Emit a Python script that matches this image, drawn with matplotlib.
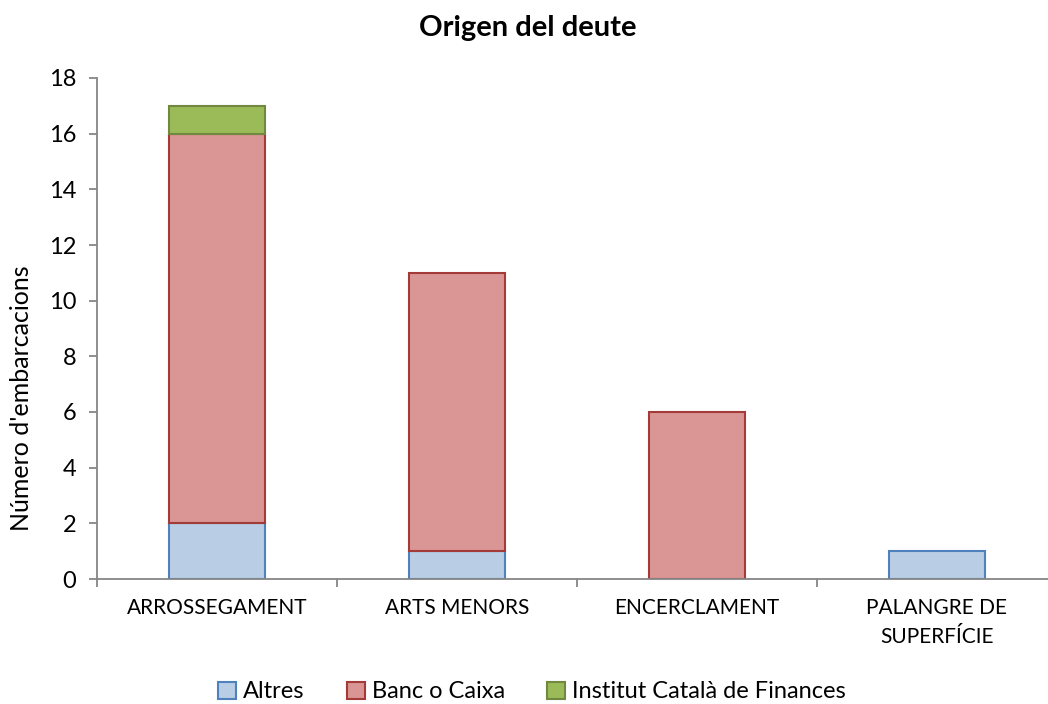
import matplotlib
matplotlib.use("Agg")
from matplotlib import pyplot as plt
import numpy as np

categories = ["ARROSSEGAMENT", "ARTS MENORS", "ENCERCLAMENT", "PALANGRE DE\nSUPERFÍCIE"]
altres = [2, 1, 0, 1]
banc = [14, 10, 6, 0]
icf = [1, 0, 0, 0]

series = [
    ("Altres", altres, "#B9CDE5", "#4F81BD"),
    ("Banc o Caixa", banc, "#D99694", "#A33B38"),
    ("Institut Català de Finances", icf, "#9BBB59", "#71893F"),
]

plt.rcParams['font.family'] = ['Lato', 'DejaVu Sans']

fig = plt.figure(figsize=(10.48, 7.04), dpi=100)
ax = fig.add_axes([97 / 1048, 1 - 579 / 704, 960 / 1048, 501 / 704])

x = np.arange(len(categories))
bottom = np.zeros(len(categories))
for name, vals, face, edge in series:
    vals = np.array(vals, dtype=float)
    mask = vals > 0
    ax.bar(x[mask], vals[mask], width=0.4, bottom=bottom[mask], color=face,
           edgecolor=edge, linewidth=1.5, label=name, zorder=2)
    bottom += vals

ax.set_xlim(-0.5, 3.5)
ax.set_ylim(0, 18)
ax.set_yticks(range(0, 19, 2))
ax.set_xticks(x)
ax.set_xticklabels(categories, fontsize=15, color="#000000", linespacing=1.55)
ax.set_xticks(np.arange(-0.5, 4, 1), minor=True)
ax.tick_params(axis="x", which="major", length=0, pad=14)
ax.tick_params(axis="x", which="minor", length=6, color="#868686", width=1.3)
ax.tick_params(axis="y", length=6, color="#868686", width=1.3, labelsize=17, pad=9)

for side in ["top", "right"]:
    ax.spines[side].set_visible(False)
for side in ["left", "bottom"]:
    ax.spines[side].set_color("#868686")
    ax.spines[side].set_linewidth(1.3)

ax.set_ylabel("Número d'embarcacions", fontsize=18, va="center")
ax.yaxis.set_label_coords(-75 / 960, 181 / 501)
fig.text(528 / 1048, 1 - 28 / 704, "Origen del deute", ha="center", va="center",
         fontsize=21, fontweight="bold")

fig.legend(loc="center", bbox_to_anchor=(532 / 1048, 1 - 692 / 704), ncol=3,
           frameon=False, fontsize=17, handlelength=0.75, handleheight=0.75,
           handletextpad=0.3, columnspacing=1.8)

fig.savefig("out.png", dpi=100)
